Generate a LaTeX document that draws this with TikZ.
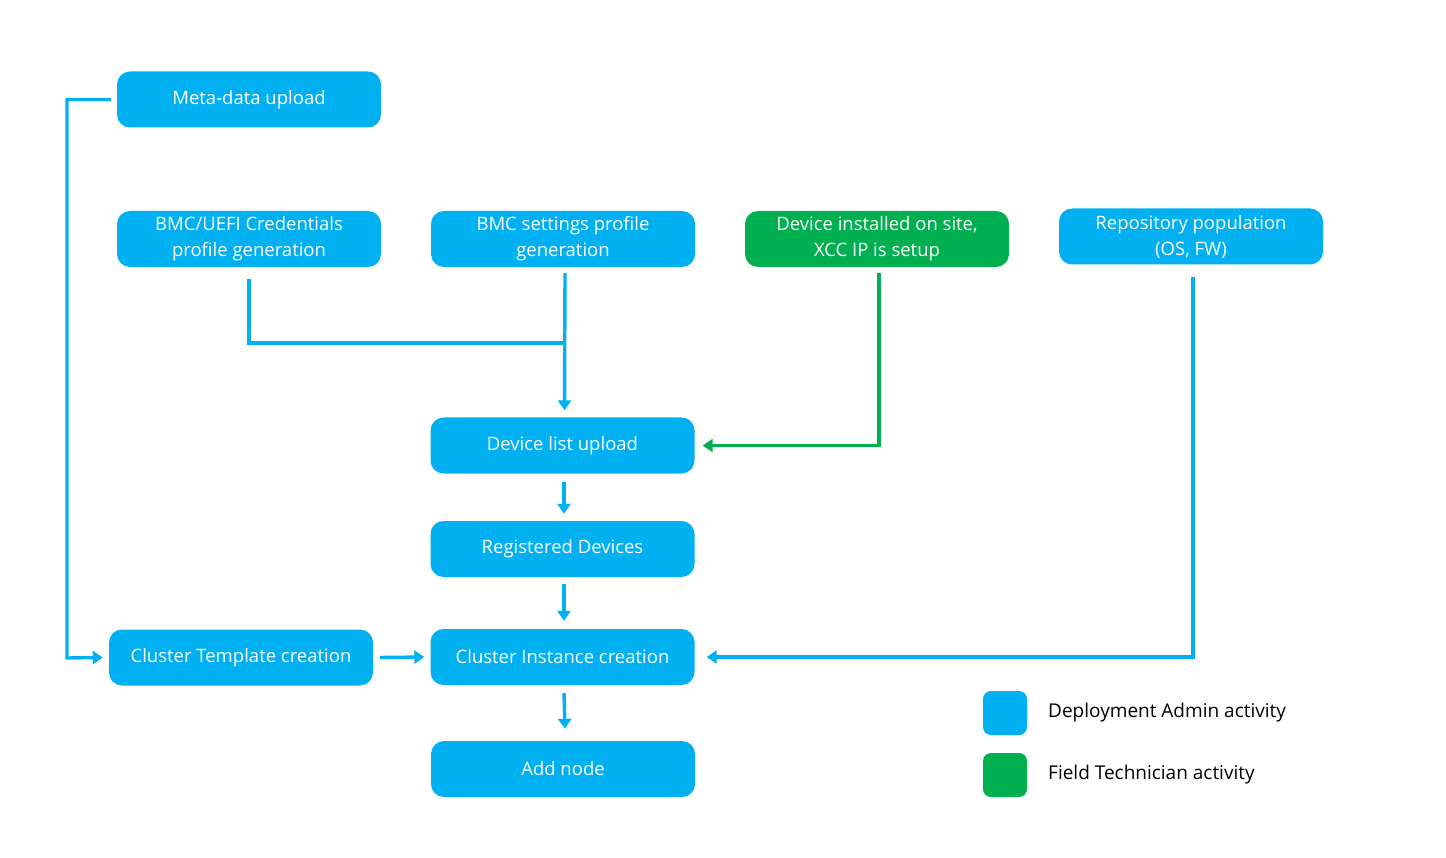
\documentclass[tikz,border=0pt]{standalone}
\usepackage{fontspec}
\setmainfont{Open Sans}
\usetikzlibrary{arrows.meta,calc}
\definecolor{blu}{HTML}{00B0F0}
\definecolor{grn}{HTML}{00B050}
\begin{document}
\begin{tikzpicture}[x=1pt,y=-1pt,
  box/.style={rounded corners=13pt,fill=blu,text=white,minimum width=264pt,minimum height=56pt,align=center,font=\fontsize{18.5}{26}\selectfont,inner sep=0pt},
  gbox/.style={box,fill=grn},
  con/.style={blu,line width=3.4pt},
  gcon/.style={grn,line width=3.4pt},
  arr/.style={-{Triangle[length=10pt,width=13pt]}},
  leg/.style={rounded corners=8pt,minimum width=44pt,minimum height=44pt,inner sep=0pt},
  legt/.style={anchor=west,font=\fontsize{19}{24}\selectfont,inner sep=0pt}]
\useasboundingbox (0,0) rectangle (1446,858);
\node[box] (meta) at (249,99.5) {Meta-data upload};
\node[box] (cred) at (249,239) {BMC/UEFI Credentials\\profile generation};
\node[box] (set) at (563,239) {BMC settings profile\\generation};
\node[gbox] (dev) at (877,239) {Device installed on site,\\XCC IP is setup};
\node[box] (repo) at (1191,236.5) {Repository population\\(OS, FW)};
\node[box] (list) at (562.5,445.5) {Device list upload};
\node[box] (reg) at (562.5,549) {Registered Devices};
\node[box] (tmpl) at (241,657.5) {Cluster Template creation};
\node[box] (inst) at (562.5,657) {Cluster Instance creation};
\node[box] (add) at (563,769) {Add node};
\node[leg,fill=blu] (lb) at (1005,713) {};
\node[leg,fill=grn] (lg) at (1005,775) {};
\node[legt] (lbt) at (1048,713) {Deployment Admin activity};
\node[legt] (lgt) at (1048,775) {Field Technician activity};
% connectors
\draw[con,arr] ([xshift=-6pt]meta.west) -| (67,658) -- ([xshift=-6pt]tmpl.west);
\coordinate (j) at (565,343);
\draw[con] ([yshift=-12pt]cred.south) |- (j);
\draw[con,arr] ([xshift=2pt,yshift=-6pt]set.south) -- ([xshift=2pt,yshift=7pt]list.north);
\draw[gcon,arr] ([xshift=2pt,yshift=-6pt]dev.south) |- ([xshift=8pt]list.east);
\draw[con,arr] ([xshift=2pt,yshift=-12pt]repo.south) |- ([xshift=12pt]inst.east);
\draw[con,arr] ([xshift=1.5pt,yshift=-8pt]list.south) -- ([xshift=1.5pt,yshift=7pt]reg.north);
\draw[con,arr] ([xshift=1.5pt,yshift=-7pt]reg.south) -- ([xshift=1.5pt,yshift=8pt]inst.north);
\draw[con,arr] ([xshift=7pt]tmpl.east) -- ([xshift=-6pt]inst.west);
\draw[con,arr] ([xshift=1.5pt,yshift=-8pt]inst.south) -- ([xshift=2pt,yshift=12pt]add.north);
\end{tikzpicture}
\end{document}
